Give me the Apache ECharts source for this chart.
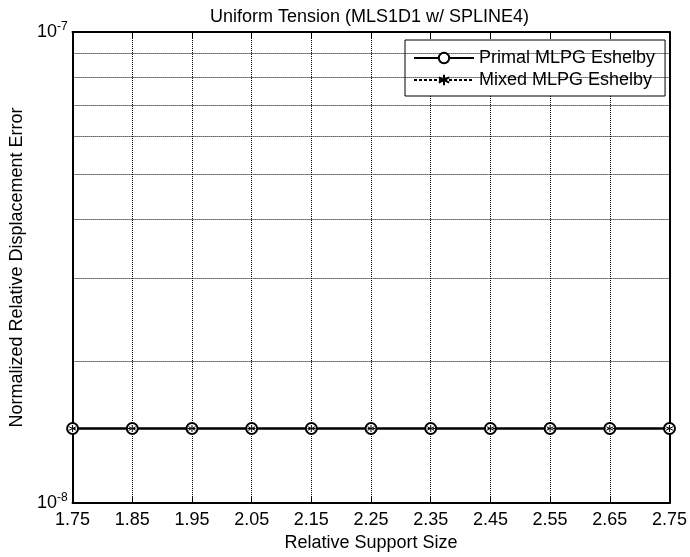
<!DOCTYPE html>
<html>
<head>
<meta charset="utf-8">
<script src="https://cdn.jsdelivr.net/npm/echarts@6/dist/echarts.min.js"></script>
<style>
  html, body { margin: 0; padding: 0; background: #fff; }
  #chart { width: 690px; height: 557px; }
</style>
</head>
<body>
<div id="chart"></div>
<script>
// x categories (relative support size)
const supportSizes = ['1.75', '1.85', '1.95', '2.05', '2.15', '2.25', '2.35', '2.45', '2.55', '2.65', '2.75'];
// normalized relative displacement error
const primalError = [1.44e-8, 1.44e-8, 1.44e-8, 1.44e-8, 1.44e-8, 1.44e-8, 1.44e-8, 1.44e-8, 1.44e-8, 1.44e-8, 1.44e-8];
const mixedError = [1.44e-8, 1.44e-8, 1.44e-8, 1.44e-8, 1.44e-8, 1.44e-8, 1.44e-8, 1.44e-8, 1.44e-8, 1.44e-8, 1.44e-8];
// log grid lines between the decades
const minorGrid = [2e-8, 3e-8, 4e-8, 5e-8, 6e-8, 7e-8, 8e-8, 9e-8];

const font = 'Liberation Sans, Arial, Helvetica, sans-serif';
const dotted = { color: '#000', width: 1, type: [1, 1] };
const asterisk = 'path://M0,-1L0,1M-0.87,-0.5L0.87,0.5M-0.87,0.5L0.87,-0.5';

const chart = echarts.init(document.getElementById('chart'));

const option = {
    animation: false,
    backgroundColor: '#fff',
    title: {
        text: 'Uniform Tension (MLS1D1 w/ SPLINE4)',
        left: 210,
        top: 8,
        padding: 0,
        textStyle: { fontFamily: font, fontSize: 18, fontWeight: 'normal', color: '#000' }
    },
    legend: {
        orient: 'vertical',
        left: 405,
        top: 40,
        padding: [9, 10, 7, 8],
        itemWidth: 60,
        itemHeight: 13,
        itemGap: 4,
        backgroundColor: '#fff',
        borderColor: '#000',
        borderWidth: 1,
        textStyle: { fontFamily: font, fontSize: 18, color: '#000' },
        data: ['Primal MLPG Eshelby', 'Mixed MLPG Eshelby']
    },
    grid: { left: 72, right: 18, top: 32, bottom: 52 },
    xAxis: [
        {
            type: 'category',
            data: supportSizes,
            boundaryGap: false,
            name: 'Relative Support Size',
            nameLocation: 'middle',
            nameGap: 22,
            nameTextStyle: { fontFamily: font, fontSize: 18, color: '#000' },
            axisLine: { lineStyle: { color: '#000', width: 2 } },
            axisTick: { inside: true, length: 6, lineStyle: { color: '#000', width: 1 } },
            axisLabel: { fontFamily: font, fontSize: 18, color: '#000', margin: 8 },
            splitLine: { show: true, lineStyle: dotted }
        },
        {
            type: 'category',
            data: supportSizes,
            boundaryGap: false,
            position: 'top',
            axisLine: { lineStyle: { color: '#000', width: 2 } },
            axisTick: { inside: true, length: 6, lineStyle: { color: '#000', width: 1 } },
            axisLabel: { show: false },
            splitLine: { show: false }
        }
    ],
    yAxis: [
        {
            type: 'log',
            logBase: 10,
            min: 1e-8,
            max: 1e-7,
            name: 'Normalized Relative Displacement Error',
            nameLocation: 'middle',
            nameGap: 46,
            nameTextStyle: { fontFamily: font, fontSize: 18, color: '#000' },
            axisLine: { show: true, lineStyle: { color: '#000', width: 2 } },
            axisTick: { inside: true, length: 6, lineStyle: { color: '#000' } },
            axisLabel: {
                margin: 5,
                formatter: function (v) {
                    return '10{sup|' + Math.round(Math.log10(v)) + '}';
                },
                rich: {
                    sup: { fontFamily: font, fontSize: 12, color: '#000', padding: [0, 0, 10, 0] }
                },
                fontFamily: font,
                fontSize: 18,
                color: '#000'
            },
            splitLine: { show: false }
        },
        {
            type: 'log',
            logBase: 10,
            min: 1e-8,
            max: 1e-7,
            position: 'right',
            axisLine: { show: true, lineStyle: { color: '#000', width: 2 } },
            axisTick: { inside: true, length: 6, lineStyle: { color: '#000' } },
            axisLabel: { show: false },
            splitLine: { show: false }
        }
    ],
    series: [
        {
            name: 'Primal MLPG Eshelby',
            type: 'line',
            data: primalError,
            symbol: 'emptyCircle',
            symbolSize: 11,
            lineStyle: { color: '#000', width: 2.5 },
            itemStyle: { color: '#000', borderColor: '#000', borderWidth: 2.5 },
            markLine: {
                silent: true,
                symbol: 'none',
                precision: 15,
                label: { show: false },
                lineStyle: dotted,
                data: minorGrid.map(v => ({ yAxis: v }))
            },
            z: 2
        },
        {
            name: 'Mixed MLPG Eshelby',
            type: 'line',
            data: mixedError,
            symbol: asterisk,
            symbolSize: 7,
            lineStyle: { color: '#000', width: 1, type: [3, 2] },
            itemStyle: { color: 'none', borderColor: '#000', borderWidth: 1 },
            z: 3
        }
    ]
};

chart.setOption(option);
</script>
</body>
</html>
